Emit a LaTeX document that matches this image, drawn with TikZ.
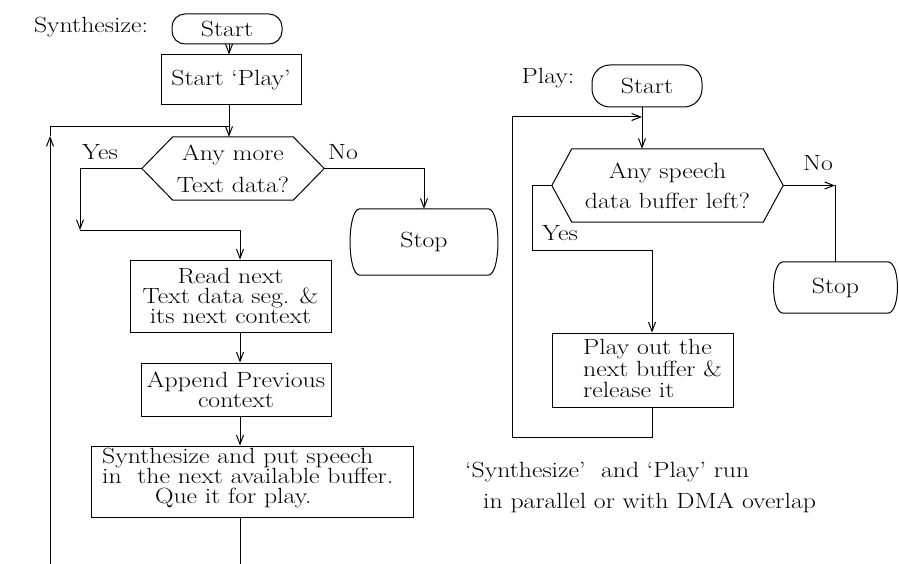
\documentclass[tikz,border=0pt]{standalone}
\usepackage{fontspec}
\setmainfont{Latin Modern Roman}[FakeStretch=1.17]
\usetikzlibrary{arrows.meta}
\begin{document}
\begin{tikzpicture}[x=1pt,y=-1pt,
  every node/.style={font=\fontsize{22}{20}\selectfont, inner sep=0pt},
  line/.style={line width=1pt},
  arr/.style={line, -{Straight Barb[length=9pt,width=7pt]}},
  box/.style={draw, line width=1pt, rectangle, align=center},
  pill/.style={draw, line width=1pt, rounded corners=#1},
  shell/.style={rectangle, draw=none}]
\useasboundingbox (0,0) rectangle (899,564);

% ---------- Synthesize ----------
\node (lsyn) at (91,27) {Synthesize:};
\node[pill=13pt, minimum width=110pt, minimum height=30pt] (s1) at (227,29) {Start};
\node[box, minimum width=140pt, minimum height=50pt] (sp) at (231,80) {Start ‘Play’};
\node[shell, minimum width=120pt, minimum height=63pt, align=center, font=\fontsize{22}{32}\selectfont] (h1) at (233,168.5) {Any more\\Text data?};
\coordinate (h1l) at ([xshift=-31pt]h1.west);
\coordinate (h1r) at ([xshift=31pt]h1.east);
\draw[line] (h1.north west) -- (h1.north east) -- (h1r) -- (h1.south east) -- (h1.south west) -- (h1l) -- cycle;
\node (yes1) at (100,152) {Yes};
\node (no1) at (343,152) {No};
\node[shell, minimum width=148pt, minimum height=66pt] (st1) at (424,242) {Stop};
\draw[line] ([xshift=10pt]st1.north west) -- ([xshift=-10pt]st1.north east)
  .. controls ([xshift=3pt]st1.north east) and ([xshift=3pt]st1.south east) .. ([xshift=-10pt]st1.south east)
  -- ([xshift=10pt]st1.south west)
  .. controls ([xshift=-3pt]st1.south west) and ([xshift=-3pt]st1.north west) .. cycle;
\node[box, minimum width=201pt, minimum height=72pt] (rd) at (230.5,296) {Read next\\Text data seg. \&\\its next context};
\node[box, minimum width=190pt, minimum height=53pt] (ap) at (236,389.5) {Append Previous\\context};
\node[box, minimum width=322pt, minimum height=71pt] (sy) at (252,481.5) {};
\node[anchor=west, align=left] (syt) at (102,478) {Synthesize and put speech\\in\ \ the next available buffer.\\\hspace*{2.4em}Que it for play.};

\coordinate (lb) at (50,564);
\coordinate (lt) at (50,127);
\coordinate (la) at (50,136);
\coordinate (j1) at (229,127);
\coordinate (spine) at (240,230);
\coordinate (yc) at (80,230);

\draw[arr] (s1.south -| j1) -- (sp.north -| j1);
\draw[arr] (sp.south -| j1) -- (h1.north -| j1);
\draw[arr] (lb) -- (la);
\draw[line] (la) -- (lt) -- (j1);
\draw[arr] (h1l) -| (yc);
\draw[arr] (yc) -| (spine |- rd.north);
\draw[arr] (h1r) -| (st1.north);
\draw[arr] (spine |- rd.south) -- (spine |- ap.north);
\draw[arr] (spine |- ap.south) -- (spine |- sy.north);
\draw[line] (spine |- sy.south) -- (spine |- lb);

% ---------- Play ----------
\node (lplay) at (548,78) {Play:};
\node[pill=18pt, minimum width=110pt, minimum height=42pt] (s2) at (647,86) {Start};
\node[shell, minimum width=191pt, minimum height=73pt, align=center, font=\fontsize{22}{30}\selectfont] (h2) at (667.5,185.5) {Any speech\\data buffer left?};
\coordinate (h2l) at ([xshift=-20pt]h2.west);
\coordinate (h2r) at ([xshift=20pt]h2.east);
\draw[line] (h2.north west) -- (h2.north east) -- (h2r) -- (h2.south east) -- (h2.south west) -- (h2l) -- cycle;
\node (yes2) at (560,233) {Yes};
\node (no2) at (818,163) {No};
\node[shell, minimum width=124pt, minimum height=51pt] (st2) at (835.5,287.5) {Stop};
\draw[line] ([xshift=10pt]st2.north west) -- ([xshift=-10pt]st2.north east)
  .. controls ([xshift=3pt]st2.north east) and ([xshift=3pt]st2.south east) .. ([xshift=-10pt]st2.south east)
  -- ([xshift=10pt]st2.south west)
  .. controls ([xshift=-3pt]st2.south west) and ([xshift=-3pt]st2.north west) .. cycle;
\node[box, minimum width=181pt, minimum height=74pt] (pb) at (642.5,370) {};
\node[anchor=west, align=left, font=\fontsize{22}{21.5}\selectfont] (pbt) at (583,368.5) {Play out the\\next buffer \&\\release it};

\coordinate (j2) at (642,117);
\coordinate (yc2) at (532,250);
\coordinate (pc) at (652,250);
\coordinate (lb2) at (512,437);
\coordinate (lt2) at (512,117);
\coordinate (nc2) at (835,185.5);

\draw[arr] (s2.south -| j2) -- (h2.north -| j2);
\draw[arr] (h2l) -| (yc2) -| (pb.north -| pc);
\draw[arr] (h2r) -- (nc2);
\draw[line] (nc2) -- (st2.north -| nc2);
\draw[line] (pb.south -| pc) |- (lb2);
\draw[line] (lb2) -- (lt2);
\draw[arr] (lt2) -- (j2);

\node[anchor=west, align=left, font=\fontsize{22}{31}\selectfont] (cap) at (465,487.5) {‘Synthesize’\ \ and ‘Play’ run\\\hspace*{18pt}in parallel or with DMA overlap};
\end{tikzpicture}
\end{document}
